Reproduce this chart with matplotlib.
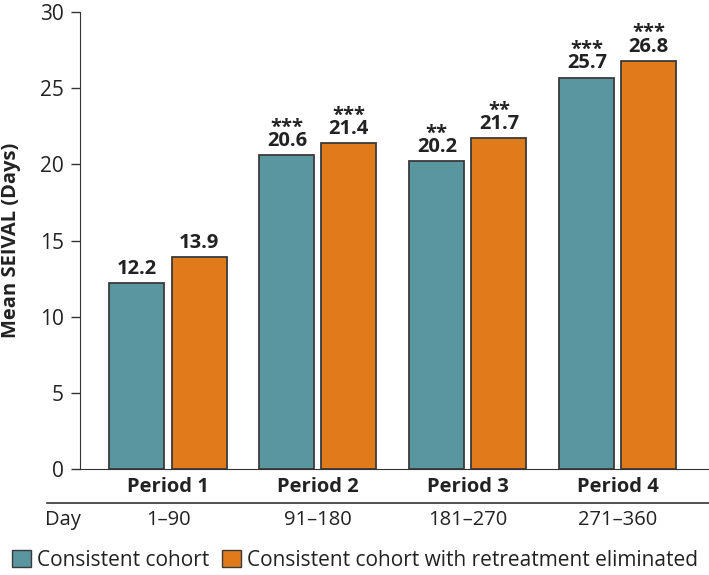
import numpy as np
import matplotlib
matplotlib.use("Agg")
import matplotlib.pyplot as plt
from matplotlib.patches import Patch

plt.rcParams['font.family'] = ['Open Sans', 'DejaVu Sans']

# dados
periodos = ['Period 1', 'Period 2', 'Period 3', 'Period 4']
dias = ['1–90', '91–180', '181–270', '271–360']
coorte = [12.2, 20.6, 20.2, 25.7]
coorte_sem_retrat = [13.9, 21.4, 21.7, 26.8]
sig_coorte = ['', '***', '**', '***']
sig_retrat = ['', '***', '**', '***']

cor_teal = '#5996a0'
cor_laranja = '#e07b1c'
cor_borda = '#3a3a3a'
cor_texto = '#222222'

fig = plt.figure(figsize=(7.09, 5.75), dpi=100)
ax = fig.add_axes([0.1128, 0.1843, 0.887, 0.7948])

x = np.arange(len(periodos))
larg = 0.367
desloc = 0.207

ax.bar(x - desloc, coorte, larg, color=cor_teal, edgecolor=cor_borda, linewidth=1.3)
ax.bar(x + desloc, coorte_sem_retrat, larg, color=cor_laranja, edgecolor=cor_borda, linewidth=1.3)

# rótulos de valores com asteriscos no mesmo texto
for xs, vals, sigs in [(x - desloc, coorte, sig_coorte), (x + desloc, coorte_sem_retrat, sig_retrat)]:
    for xi, v, s in zip(xs, vals, sigs):
        rotulo = '{:.1f}'.format(v)
        if s:
            rotulo = s + '\n' + rotulo
        ax.annotate(rotulo, (xi, v), xytext=(0, 3), textcoords='offset points',
                    ha='center', va='bottom', multialignment='center', linespacing=0.55,
                    fontsize=14.5, fontweight='bold', color=cor_texto)

ax.set_xlim(-0.587, 3.607)
ax.set_ylim(0, 30)
ax.set_yticks([0, 5, 10, 15, 20, 25, 30])
ax.tick_params(axis='y', labelsize=15, length=6.5, width=1, colors='#333333', labelcolor=cor_texto, pad=5)
ax.set_xticks([])
ax.spines['top'].set_visible(False)
ax.spines['right'].set_visible(False)
ax.spines['left'].set_color('#333333')
ax.spines['bottom'].set_color('#333333')
ax.set_ylabel('Mean SEIVAL (Days)', fontsize=14.5, fontweight='bold', color=cor_texto)
ax.yaxis.set_label_coords(-0.094, 0.5)

# linhas de período e dias
for xi, p, d in zip(x, periodos, dias):
    ax.text(xi, -0.039, p, transform=ax.get_xaxis_transform(), ha='center', va='center',
            fontsize=14.5, fontweight='bold', color=cor_texto)
    ax.text(xi, -0.112, d, transform=ax.get_xaxis_transform(), ha='center', va='center',
            fontsize=14.5, color=cor_texto)
ax.text(-0.0556, -0.112, 'Day', transform=ax.transAxes, ha='left', va='center',
        fontsize=14.5, color=cor_texto)
ax.plot([-0.0525, 1.0], [-0.0744, -0.0744], transform=ax.transAxes, color='#333333',
        linewidth=1.2, clip_on=False)

# legenda
handles = [Patch(facecolor=cor_teal, edgecolor=cor_borda, label='Consistent cohort'),
           Patch(facecolor=cor_laranja, edgecolor=cor_borda, label='Consistent cohort with retreatment eliminated')]
fig.legend(handles=handles, loc='center', bbox_to_anchor=(0.501, 0.026), ncol=2, frameon=False,
           fontsize=15, handlelength=0.9, handleheight=0.9, handletextpad=0.3, columnspacing=0.6,
           labelcolor=cor_texto)

plt.savefig('out.png', dpi=100)
